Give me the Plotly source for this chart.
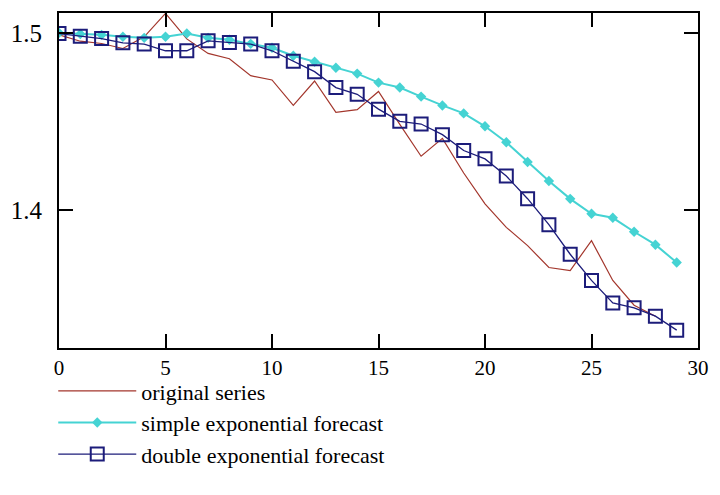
import plotly.graph_objects as go

# time index
t_orig = list(range(29))
t_fc = list(range(30))

original_series = [
    1.4989, 1.4953, 1.4940, 1.4912, 1.4978, 1.5110, 1.4966, 1.4884, 1.4854, 1.4758,
    1.4734, 1.4590, 1.4728, 1.4551, 1.4566, 1.4669, 1.4483, 1.4303, 1.4404, 1.4208,
    1.4034, 1.3901, 1.3798, 1.3674, 1.3657, 1.3826, 1.3601, 1.3461, 1.3399,
]

simple_forecast = [
    1.5000, 1.4994, 1.4989, 1.4978, 1.4972, 1.4978, 1.4997, 1.4972, 1.4961, 1.4938,
    1.4916, 1.4871, 1.4837, 1.4803, 1.4770, 1.4719, 1.4691, 1.4640, 1.4590, 1.4545,
    1.4472, 1.4382, 1.4270, 1.4163, 1.4062, 1.3978, 1.3955, 1.3876, 1.3803, 1.3702,
]

double_forecast = [
    1.4996, 1.4981, 1.4968, 1.4944, 1.4937, 1.4899, 1.4899, 1.4955, 1.4946, 1.4937,
    1.4899, 1.4840, 1.4781, 1.4691, 1.4653, 1.4569, 1.4500, 1.4485, 1.4425, 1.4335,
    1.4288, 1.4191, 1.4063, 1.3916, 1.3749, 1.3601, 1.3474, 1.3446, 1.3399, 1.3320,
]

x_ticks = [0, 5, 10, 15, 20, 25, 30]
y_ticks = [1.4, 1.5]

FONT = "'Liberation Serif', 'Times New Roman', serif"

fig = go.Figure()
fig.add_trace(go.Scatter(
    x=t_orig, y=original_series, mode="lines", name="original series",
    line=dict(color="#a3362c", width=1.2),
))
fig.add_trace(go.Scatter(
    x=t_fc, y=simple_forecast, mode="lines+markers", name="simple exponential forecast",
    line=dict(color="#45d3d3", width=2),
    marker=dict(symbol="diamond", size=8, color="#45d3d3"),
))
fig.add_trace(go.Scatter(
    x=t_fc, y=double_forecast, mode="lines+markers", name="double exponential forecast",
    line=dict(color="#1c1c7a", width=1.3),
    marker=dict(symbol="square-open", size=13, color="#1c1c7a", line=dict(width=2)),
))

axis_common = dict(
    showgrid=False, zeroline=False, showline=True, linecolor="black", linewidth=2,
    mirror="allticks", ticks="inside", ticklen=14, tickwidth=1.5, tickcolor="black",
)

fig.update_xaxes(range=[0, 30], tickvals=x_ticks, ticktext=[str(v) for v in x_ticks],
                 tickfont=dict(family=FONT, size=21, color="black"), **axis_common)
fig.update_yaxes(range=[1.32191, 1.51124], tickvals=y_ticks,
                 ticktext=[f"{v:.1f}" for v in y_ticks], ticklabelstandoff=10,
                 tickfont=dict(family=FONT, size=25, color="black"), **axis_common)

fig.update_layout(
    width=720, height=495,
    margin=dict(l=59, r=19, t=11, b=147),
    plot_bgcolor="white", paper_bgcolor="white",
    font=dict(family=FONT, color="black"),
    showlegend=True,
    legend=dict(
        x=-0.009, y=-0.066, xanchor="left", yanchor="top",
        font=dict(family=FONT, size=22, color="black"),
        bgcolor="rgba(0,0,0,0)", itemwidth=78, tracegroupgap=0,
    ),
)

fig.write_html("out.html")
